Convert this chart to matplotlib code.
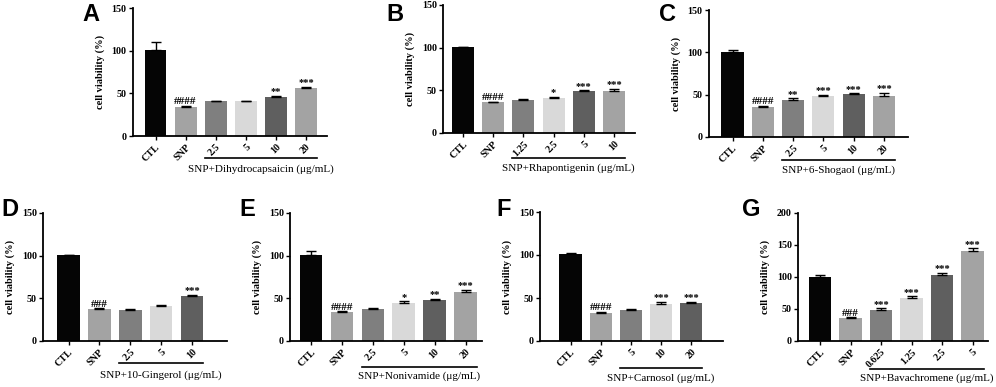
import matplotlib
matplotlib.use("Agg")
import matplotlib.pyplot as plt
import matplotlib.transforms as mtransforms

W, H = 996, 387

# ── Data ──────────────────────────────────────────────────────────────────────

a_labels = ["CTL", "SNP", "2.5", "5", "10", "20"]
a_means  = [100.5, 34.5, 40.5, 40.5, 46, 56.5]
a_errs   = [9.5, 1.0, 0.6, 0.5, 1.3, 1.2]
a_marks  = ["", "####", "", "", "**", "***"]
a_drug   = "SNP+Dihydrocapsaicin (μg/mL)"

b_labels = ["CTL", "SNP", "1.25", "2.5", "5", "10"]
b_means  = [100.5, 36, 38.5, 40.5, 49, 49.8]
b_errs   = [0.7, 0.8, 1.8, 2.0, 1.0, 2.0]
b_marks  = ["", "####", "", "*", "***", "***"]
b_drug   = "SNP+Rhapontigenin (μg/mL)"

c_labels = ["CTL", "SNP", "2.5", "5", "10", "20"]
c_means  = [100.5, 36, 44, 48.8, 50.8, 48.8]
c_errs   = [1.8, 1.0, 1.5, 0.8, 0.8, 3.2]
c_marks  = ["", "####", "**", "***", "***", "***"]
c_drug   = "SNP+6-Shogaol (μg/mL)"

d_labels = ["CTL", "SNP", "2.5", "5", "10"]
d_means  = [100.5, 37, 36.5, 41.5, 53.3]
d_errs   = [0.5, 1.2, 1.2, 1.2, 0.8]
d_marks  = ["", "###", "", "", "***"]
d_drug   = "SNP+10-Gingerol (μg/mL)"

e_labels = ["CTL", "SNP", "2.5", "5", "10", "20"]
e_means  = [100.5, 34, 37.5, 44, 48, 57.5]
e_errs   = [5.2, 0.8, 0.8, 2.5, 1.2, 2.5]
e_marks  = ["", "####", "", "*", "**", "***"]
e_drug   = "SNP+Nonivamide (μg/mL)"

f_labels = ["CTL", "SNP", "5", "10", "20"]
f_means  = [101, 32.5, 36.5, 43, 44]
f_errs   = [1.0, 1.8, 1.0, 2.8, 1.2]
f_marks  = ["", "####", "", "***", "***"]
f_drug   = "SNP+Carnosol (μg/mL)"

g_labels = ["CTL", "SNP", "0.625", "1.25", "2.5", "5"]
g_means  = [100, 36, 48.6, 66.8, 103, 141]
g_errs   = [3.2, 1.2, 2.5, 2.8, 3.0, 4.0]
g_marks  = ["", "###", "***", "***", "***", "***"]
g_drug   = "SNP+Bavachromene (μg/mL)"

# bar colours: CTL, SNP, then treatment shades in order
BASE_COLORS  = ["#050505", "#a3a3a3"]
TREAT_COLORS = ["#7f7f7f", "#d9d9d9", "#5f5f5f", "#a3a3a3"]

# ── Layout (pixels) ──────────────────────────────────────────────────────────
# letter, data, ymax, axes left/right/top/bottom, first bar centre, bar pitch,
# letter x, letter y, underline offset below axis, label offset below axis
panels = [
    ("A", a_labels, a_means, a_errs, a_marks, a_drug, 150, 133, 327, 8, 136, 155.5, 30.1, 82, 3, 22, 33),
    ("B", b_labels, b_means, b_errs, b_marks, b_drug, 150, 443, 635, 5, 133, 463, 30.2, 386, 3, 25, 35),
    ("C", c_labels, c_means, c_errs, c_marks, c_drug, 150, 709, 908, 10, 137, 732.5, 30.3, 659, 3, 23, 33),
    ("D", d_labels, d_means, d_errs, d_marks, d_drug, 150, 43, 227, 213, 341, 68.5, 30.9, 1, 198, 22, 34),
    ("E", e_labels, e_means, e_errs, e_marks, e_drug, 150, 290, 482, 213, 341, 311, 30.9, 239, 198, 26, 35),
    ("F", f_labels, f_means, f_errs, f_marks, f_drug, 150, 540, 723, 212, 341, 570.5, 30.2, 496, 198, 27, 37),
    ("G", g_labels, g_means, g_errs, g_marks, g_drug, 200, 798, 988, 213, 341, 820, 30.5, 742, 198, 28, 37),
]

SERIF = "Liberation Serif"
SANS  = "Liberation Sans"

fig = plt.figure(figsize=(W / 100, H / 100), dpi=100)

for (letter, labels, means, errs, marks, drug, ymax,
     L, R, T, B, c0, pitch, lx, ly, uoff, toff) in panels:
    ax = fig.add_axes([L / W, 1 - B / H, (R - L) / W, (B - T) / H])
    n = len(labels)
    xs = list(range(n))
    colors = BASE_COLORS + TREAT_COLORS[: n - 2]

    ax.bar(xs, means, width=0.73, color=colors, edgecolor="none", zorder=2)
    ax.errorbar(xs, means, yerr=[[0] * n, errs], fmt="none", ecolor="black",
                elinewidth=1.0, capsize=3.5, capthick=1.0, zorder=3)

    for x, m, e, s in zip(xs, means, errs, marks):
        if s:
            fs = 8 if s.startswith("#") else 7.5
            ax.annotate(s, (x, m + e), xytext=(0, 1.2), textcoords="offset points",
                        ha="center", va="baseline", fontsize=fs, fontweight="bold",
                        family=SERIF, annotation_clip=False)

    ax.set_xlim((L - c0) / pitch, (R - c0) / pitch)
    ax.set_ylim(0, ymax)
    ax.set_yticks(list(range(0, ymax + 1, 50)))
    ax.set_xticks(xs)
    ax.set_xticklabels(labels, rotation=45, ha="right", rotation_mode="anchor")

    for sp in ["top", "right"]:
        ax.spines[sp].set_visible(False)
    for sp in ["left", "bottom"]:
        ax.spines[sp].set_linewidth(1.3)
    ax.tick_params(axis="both", direction="out", length=3, width=1.0, pad=1.5)
    for t in ax.get_xticklabels() + ax.get_yticklabels():
        t.set_fontfamily(SERIF)
        t.set_fontweight("bold")
        t.set_fontsize(7.2)

    ax.set_ylabel("cell viability (%)", family=SERIF, fontweight="bold",
                  fontsize=7.5, labelpad=5)

    # underline + compound label below the treatment groups
    h_px = B - T
    trans = mtransforms.blended_transform_factory(ax.transData, ax.transAxes)
    ax.plot([2 - 0.365, n - 1 + 0.365], [-uoff / h_px] * 2, color="black",
            lw=1.2, transform=trans, clip_on=False)
    ax.text((2 - 0.365 + n - 1 + 0.365) / 2, -toff / h_px, drug, transform=trans,
            ha="center", va="center", fontsize=8, family=SERIF)

    fig.text(lx / W, 1 - ly / H, letter, ha="left", va="top", fontsize=17,
             fontweight="bold", family=SANS)

fig.savefig("out.png", dpi=100)
